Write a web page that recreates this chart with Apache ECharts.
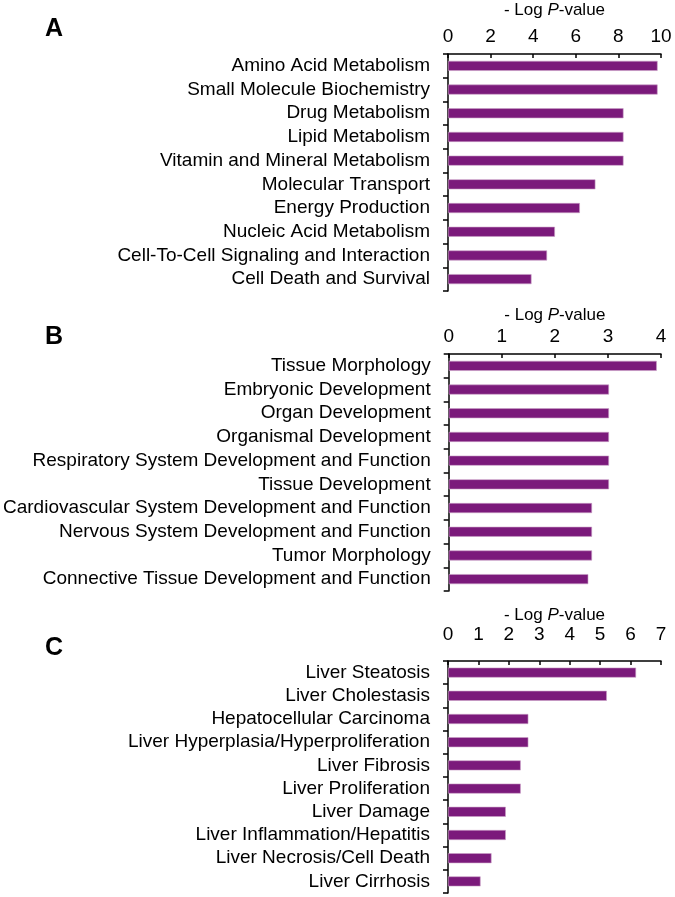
<!DOCTYPE html>
<html>
<head>
<meta charset="utf-8">
<script src="https://cdn.jsdelivr.net/npm/echarts@6/dist/echarts.min.js"></script>
<style>
html,body{margin:0;padding:0;background:#fff;}
#chart{width:675px;height:897px;}
</style>
</head>
<body>
<div id="chart"></div>
<script>
// Panel A
var catsA = ['Amino Acid Metabolism','Small Molecule Biochemistry','Drug Metabolism','Lipid Metabolism','Vitamin and Mineral Metabolism','Molecular Transport','Energy Production','Nucleic Acid Metabolism','Cell-To-Cell Signaling and Interaction','Cell Death and Survival'];
var valsA = [9.84, 9.84, 8.24, 8.24, 8.24, 6.92, 6.19, 5.02, 4.65, 3.92];
var ticksA = {min: 0, max: 10, interval: 2};
// Panel B
var catsB = ['Tissue Morphology','Embryonic Development','Organ Development','Organismal Development','Respiratory System Development and Function','Tissue Development','Cardiovascular System Development and Function','Nervous System Development and Function','Tumor Morphology','Connective Tissue Development and Function'];
var valsB = [3.92, 3.02, 3.02, 3.02, 3.02, 3.02, 2.70, 2.70, 2.70, 2.63];
var ticksB = {min: 0, max: 4, interval: 1};
// Panel C
var catsC = ['Liver Steatosis','Liver Cholestasis','Hepatocellular Carcinoma','Liver Hyperplasia/Hyperproliferation','Liver Fibrosis','Liver Proliferation','Liver Damage','Liver Inflammation/Hepatitis','Liver Necrosis/Cell Death','Liver Cirrhosis'];
var valsC = [6.18, 5.22, 2.64, 2.64, 2.39, 2.39, 1.90, 1.90, 1.43, 1.07];
var ticksC = {min: 0, max: 7, interval: 1};
var panelLetters = ['A','B','C'];

var FONT = 'Liberation Sans, Arial, sans-serif';
var BAR = '#7b1a7b';

var panels = [
  {cats: catsA, vals: valsA, ticks: ticksA, top: 54, height: 237, labelMargin: 8, nameGap: 35, letterY: 30},
  {cats: catsB, vals: valsB, ticks: ticksB, top: 354, height: 237, labelMargin: 8, nameGap: 30, letterY: 338},
  {cats: catsC, vals: valsC, ticks: ticksC, top: 661, height: 232, labelMargin: 17, nameGap: 37, letterY: 649}
];

var grids = [], xAxes = [], yAxes = [], series = [], graphics = [];
panels.forEach(function(p, i){
  grids.push({left: 448, width: 213, top: p.top, height: p.height, containLabel: false});
  xAxes.push({
    type: 'value', gridIndex: i, position: 'top',
    min: p.ticks.min, max: p.ticks.max, interval: p.ticks.interval,
    splitLine: {show: false},
    axisLine: {show: true, lineStyle: {color: '#000', width: 1.5}},
    axisTick: {show: true, inside: true, length: 4, lineStyle: {color: '#000', width: 1.5}},
    axisLabel: {show: true, margin: p.labelMargin, color: '#000', fontSize: 19, fontFamily: FONT},
    name: '{n|- Log }{i|P}{n|-value}',
    nameLocation: 'middle', nameGap: p.nameGap,
    nameMoveOverlap: false,
    nameTextStyle: {
      rich: {
        n: {fontSize: 17, fontFamily: FONT, color: '#000'},
        i: {fontSize: 17, fontFamily: FONT, color: '#000', fontStyle: 'italic'}
      }
    }
  });
  yAxes.push({
    type: 'category', gridIndex: i, data: p.cats, inverse: true,
    axisLine: {show: true, lineStyle: {color: '#000', width: 1.5}},
    axisTick: {show: true, inside: false, length: 5, lineStyle: {color: '#000', width: 1.5}},
    axisLabel: {show: true, margin: 18, color: '#000', fontSize: 19, fontFamily: FONT, interval: 0},
    splitLine: {show: false}
  });
  series.push({
    type: 'bar', xAxisIndex: i, yAxisIndex: i, data: p.vals,
    barWidth: 10, silent: true,
    itemStyle: {color: BAR, borderColor: '#c9a0c6', borderWidth: 0.6}
  });
  graphics.push({
    type: 'text', left: 45, top: p.letterY - 13,
    style: {text: panelLetters[i], font: 'bold 25px ' + FONT, fill: '#000'}
  });
});

var chart = echarts.init(document.getElementById('chart'), null, {renderer: 'canvas'});
chart.setOption({
  animation: false,
  backgroundColor: '#fff',
  grid: grids, xAxis: xAxes, yAxis: yAxes, series: series,
  graphic: graphics
});
</script>
</body>
</html>
